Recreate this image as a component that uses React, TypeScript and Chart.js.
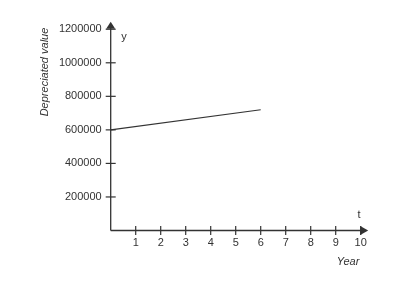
import React, { useEffect, useRef } from "react";
import { Chart, registerables } from "chart.js";

Chart.register(...registerables);

const years: number[] = [0, 6];
const values: number[] = [600000, 720000];
const xTickValues: number[] = [1, 2, 3, 4, 5, 6, 7, 8, 9, 10];
const yTickValues: number[] = [200000, 400000, 600000, 800000, 1000000, 1200000];
const yTitle = "Depreciated value";
const xTitle = "Year";
const yAxisName = "y";
const xAxisName = "t";

const FONT = "'Liberation Sans', Arial, sans-serif";
const INK = "#333333";

const axesPlugin = {
  id: "arrowAxes",
  afterDraw(chart: any) {
    const ctx = chart.ctx;
    const { left, right, top, bottom } = chart.chartArea;
    const xs = chart.scales.x;
    const ys = chart.scales.y;
    ctx.save();
    ctx.strokeStyle = INK;
    ctx.fillStyle = INK;
    ctx.lineWidth = 1.3;
    // y axis
    ctx.beginPath();
    ctx.moveTo(left, bottom);
    ctx.lineTo(left, top + 6);
    ctx.stroke();
    ctx.beginPath();
    ctx.moveTo(left, top);
    ctx.lineTo(left - 4.5, top + 7);
    ctx.lineTo(left + 4.5, top + 7);
    ctx.closePath();
    ctx.fill();
    // x axis
    ctx.beginPath();
    ctx.moveTo(left, bottom);
    ctx.lineTo(right - 6, bottom);
    ctx.stroke();
    ctx.beginPath();
    ctx.moveTo(right, bottom);
    ctx.lineTo(right - 8, bottom - 4.5);
    ctx.lineTo(right - 8, bottom + 4.5);
    ctx.closePath();
    ctx.fill();
    // tick marks
    ctx.lineWidth = 1.2;
    ys.ticks.forEach((t: any) => {
      const py = ys.getPixelForValue(t.value);
      ctx.beginPath();
      ctx.moveTo(left - 5, py);
      ctx.lineTo(left + 5, py);
      ctx.stroke();
    });
    xs.ticks.forEach((t: any) => {
      const px = xs.getPixelForValue(t.value);
      ctx.beginPath();
      ctx.moveTo(px, bottom - 4.5);
      ctx.lineTo(px, bottom + 4.5);
      ctx.stroke();
    });
    // titles
    ctx.textAlign = "center";
    ctx.textBaseline = "middle";
    ctx.font = `italic 11px ${FONT}`;
    ctx.fillText(xTitle, 348, 262);
    ctx.save();
    ctx.translate(45, 72);
    ctx.rotate(-Math.PI / 2);
    ctx.fillText(yTitle, 0, 0);
    ctx.restore();
    ctx.font = `11px ${FONT}`;
    ctx.fillText(yAxisName, 124, 37);
    ctx.fillText(xAxisName, 359, 215);
    ctx.restore();
  },
};

export default function App() {
  const ref = useRef<HTMLCanvasElement | null>(null);
  useEffect(() => {
    if (!ref.current) return;
    const chart = new Chart(ref.current, {
      type: "line",
      data: {
        datasets: [
          {
            data: years.map((x, i) => ({ x, y: values[i] })),
            borderColor: INK,
            borderWidth: 1.2,
            pointRadius: 0,
            tension: 0,
          },
        ],
      },
      options: {
        responsive: false,
        animation: false,
        layout: { padding: { left: 0, top: 21.7, right: 31.8, bottom: 0 } },
        plugins: { legend: { display: false }, tooltip: { enabled: false } },
        scales: {
          x: {
            type: "linear",
            min: 0,
            max: 10.3,
            afterBuildTicks: (s: any) => {
              s.ticks = xTickValues.map((v) => ({ value: v }));
            },
            afterFit: (s: any) => {
              s.height = 300 - 230.5;
            },
            grid: { display: false, drawTicks: false },
            border: { display: false },
            ticks: {
              padding: 6,
              color: INK,
              font: { family: FONT, size: 11 },
              maxRotation: 0,
              autoSkip: false,
            },
          },
          y: {
            type: "linear",
            min: 0,
            max: 1245000,
            afterBuildTicks: (s: any) => {
              s.ticks = yTickValues.map((v) => ({ value: v }));
            },
            afterFit: (s: any) => {
              s.width = 110.7;
            },
            grid: { display: false, drawTicks: false },
            border: { display: false },
            ticks: {
              padding: 9,
              color: INK,
              font: { family: FONT, size: 11 },
              autoSkip: false,
              callback: (v: any) => String(v),
            },
          },
        },
      },
      plugins: [axesPlugin],
    });
    return () => chart.destroy();
  }, []);
  return (
    <div style={{ position: "fixed", left: 0, top: 0, width: 400, height: 300, background: "#fff" }}>
      <canvas ref={ref} width={400} height={300} style={{ width: 400, height: 300 }} />
    </div>
  );
}
